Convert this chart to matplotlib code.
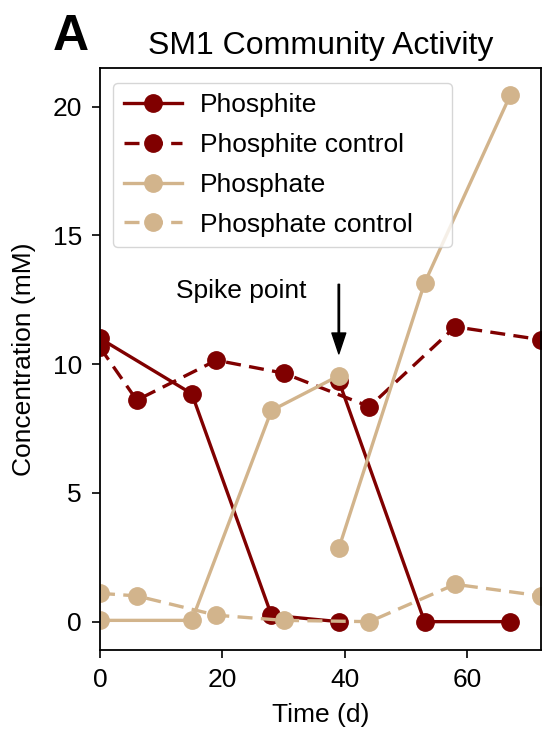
import matplotlib
matplotlib.use("Agg")
import matplotlib.pyplot as plt
import numpy as np

plt.rcParams['font.family'] = ['Liberation Sans', 'DejaVu Sans']

# Phosphite (amended), before and after the spike
phi_t_pre = [0, 15, 28, 39]
phi_pre = [11.0, 8.85, 0.25, 0.0]
phi_t_post = [39, 53, 67]
phi_post = [9.35, 0.0, 0.0]

# Phosphite control
phic_t = [0, 6, 19, 30, 44, 58, 72]
phic = [10.65, 8.6, 10.15, 9.65, 8.35, 11.45, 10.95]

# Phosphate, before and after the spike
pha_t_pre = [0, 15, 28, 39]
pha_pre = [0.05, 0.05, 8.2, 9.55]
pha_t_post = [39, 53, 67]
pha_post = [2.85, 13.15, 20.45]

# Phosphate control
phac_t = [0, 6, 19, 30, 44, 58, 72]
phac = [1.1, 1.0, 0.25, 0.05, 0.0, 1.45, 1.0]

red = '#800000'
tan = '#D2B48C'
fs = 19

fig = plt.figure(figsize=(5.42, 7.29), dpi=100)
ax = fig.add_axes([0.1845, 0.1084, 0.8135, 0.7983])

kw = dict(marker='o', markersize=12.5, linewidth=2.4)
dash = (0, (4.5, 2.5))
ax.plot(phi_t_pre, phi_pre, color=red, label='Phosphite', **kw)
ax.plot(phi_t_post, phi_post, color=red, **kw)
ax.plot(phic_t, phic, color=red, linestyle=dash, label='Phosphite control', **kw)
ax.plot(pha_t_pre, pha_pre, color=tan, label='Phosphate', **kw)
ax.plot(pha_t_post, pha_post, color=tan, **kw)
ax.plot(phac_t, phac, color=tan, linestyle=dash, label='Phosphate control', **kw)

ax.annotate('', xy=(39, 10.4), xytext=(39, 13.1),
            arrowprops=dict(facecolor='black', edgecolor='black', width=1.0, headwidth=10, headlength=15))
ax.text(12.4, 12.85, 'Spike point', fontsize=fs, va='center', ha='left')

ax.set_xlim(0, 72)
ax.set_ylim(-1.1, 21.5)
ax.set_xticks([0, 20, 40, 60])
ax.set_yticks([0, 5, 10, 15, 20])
ax.tick_params(labelsize=fs, length=6, width=1.2, pad=7)
for s in ax.spines.values():
    s.set_linewidth(1.3)
ax.set_xlabel('Time (d)', fontsize=fs, labelpad=8)
ax.set_ylabel('Concentration (mM)', fontsize=fs, labelpad=12)
ax.set_title('SM1 Community Activity', fontsize=23, pad=10)
ax.legend(loc='upper left', bbox_to_anchor=(0.0295, 0.0, 0.7687, 0.975), mode='expand',
          borderaxespad=0, fontsize=fs, handlelength=2.2, handletextpad=0.7, labelspacing=0.6)

fig.text(0.098, 0.931, 'A', fontsize=36, fontweight='bold', va='baseline')

fig.savefig('out.png', dpi=100)
